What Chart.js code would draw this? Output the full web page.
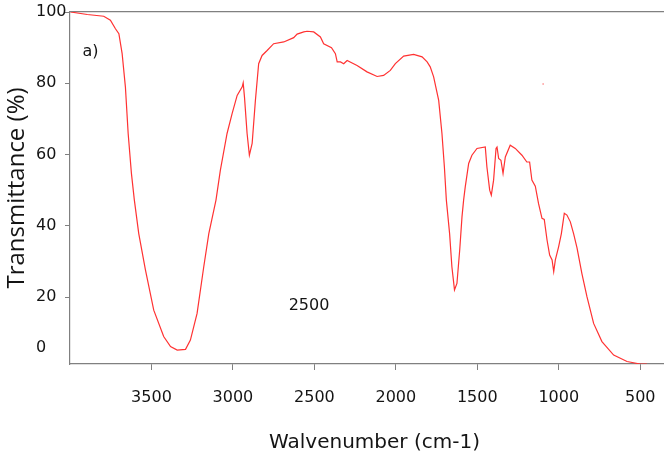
<!DOCTYPE html>
<html><head><meta charset="utf-8">
<script src="https://cdn.jsdelivr.net/npm/chart.js@4"></script>
<style>html,body{margin:0;padding:0;background:#fff;overflow:hidden}#wrap{width:664px;height:460px;overflow:hidden}</style>
</head><body><div id="wrap"><canvas id="c" width="683" height="460"></canvas></div>
<script>
const wavenumber = [3997,3894,3793,3752,3721,3700,3680,3660,3643,3623,3605,3578,3537,3486,3425,3383,3342,3291,3261,3220,3179,3148,3104,3077,3036,3005,2974,2943,2937,2929,2913,2899,2882,2862,2842,2821,2790,2750,2688,2627,2606,2565,2545,2504,2463,2443,2395,2371,2360,2340,2320,2299,2238,2177,2115,2075,2034,2003,1952,1891,1839,1808,1789,1768,1737,1717,1702,1690,1670,1656,1640,1625,1608,1594,1584,1574,1553,1533,1502,1451,1441,1424,1414,1400,1385,1379,1369,1355,1342,1328,1298,1267,1226,1196,1179,1165,1144,1124,1103,1089,1072,1056,1041,1031,1021,1001,984,966,950,929,909,888,858,827,786,735,663,581,500,459];
const transmittance = [100.0,99.3,98.8,97.7,95.3,93.9,88.3,79.0,65.9,54.7,47.2,37.8,27.6,16.3,8.9,6.1,5.1,5.3,7.9,15.4,28.5,37.8,47.2,55.6,65.9,71.5,76.6,79.0,80.1,76.1,65.9,59.8,63.1,75.2,85.5,87.8,89.2,91.1,91.6,92.8,93.8,94.4,94.6,94.4,93.0,91.1,90.0,88.3,86.0,86.0,85.5,86.4,85.0,83.2,81.9,82.2,83.6,85.5,87.6,88.1,87.4,86.0,84.6,81.8,75.2,65.9,56.5,47.2,37.8,28.5,22.0,23.8,33.2,42.5,47.2,50.9,57.5,59.8,61.7,62.1,56.5,50.0,48.6,52.8,61.7,62.1,58.9,58.4,54.7,59.3,62.6,61.7,59.8,57.9,57.9,52.8,51.1,46.2,42.1,41.8,36.0,31.8,30.4,27.1,30.4,34.1,37.8,43.5,43.0,41.1,37.8,33.8,26.6,20.1,12.6,7.5,3.7,1.9,1.2,1.2];
const strayX = [1096];
const strayY = [79.8];
const xTickValues = [3500,3000,2500,2000,1500,1000,500];
const yTickValues = [5.7,20,40,60,80,100];
const yTickLabels = ['0','20','40','60','80','100'];
const noteTexts = ['a)','2500'];
const noteX = [3874,2533];
const noteY = [88.8,17.5];

const GRAY = '#808080';
const TXT = '#141414';

const notesPlugin = {
  id: 'notes',
  afterDatasetsDraw(chart) {
    const ctx = chart.ctx, xs = chart.scales.x, ys = chart.scales.y;
    ctx.save();
    ctx.font = '16px "DejaVu Sans"';
    ctx.fillStyle = TXT;
    ctx.textAlign = 'center';
    ctx.textBaseline = 'middle';
    noteTexts.forEach((t, i) => {
      ctx.fillText(t, xs.getPixelForValue(noteX[i]), ys.getPixelForValue(noteY[i]));
    });
    ctx.restore();
  }
};

new Chart(document.getElementById('c'), {
  type: 'line',
  data: {
    datasets: [{
      data: wavenumber.map((w, i) => ({x: w, y: transmittance[i]})),
      borderColor: 'rgb(255,50,50)',
      borderWidth: 1.2,
      pointRadius: 0,
      tension: 0,
      fill: false
    }, {
      data: strayX.map((w, i) => ({x: w, y: strayY[i]})),
      showLine: false,
      pointRadius: 0.8,
      pointBorderWidth: 0,
      pointBackgroundColor: 'rgba(255,80,80,0.8)'
    }]
  },
  options: {
    responsive: false,
    animation: false,
    devicePixelRatio: 1,
    layout: {padding: {left: 36, top: 12, right: 0, bottom: 0}},
    plugins: {legend: {display: false}, tooltip: {enabled: false}},
    scales: {
      x: {
        type: 'linear', reverse: true, min: 262, max: 4000,
        afterBuildTicks: s => { s.ticks = xTickValues.map(v => ({value: v})); },
        afterFit: s => { s.height = 96; s.paddingLeft = 0; s.paddingRight = 0; },
        grid: {drawOnChartArea: false, drawTicks: true, tickLength: 6, tickColor: GRAY},
        border: {color: GRAY, width: 1.2},
        ticks: {font: {family: 'DejaVu Sans', size: 16}, color: TXT, padding: 18, maxRotation: 0, autoSkip: false,
                callback: v => String(v)},
        title: {display: true, text: 'Walvenumber (cm-1)', font: {family: 'DejaVu Sans', size: 20}, color: TXT,
                padding: {top: 0, bottom: 5}}
      },
      x2: {
        type: 'linear', position: 'top', min: 0, max: 1,
        afterBuildTicks: s => { s.ticks = []; },
        afterFit: s => { s.height = 0; s.paddingLeft = 0; s.paddingRight = 0; },
        grid: {display: false},
        ticks: {display: false},
        border: {display: true, color: GRAY, width: 1.2}
      },
      y: {
        type: 'linear', min: 1.2, max: 100,
        afterBuildTicks: s => { s.ticks = yTickValues.map(v => ({value: v})); },
        afterFit: s => { s.width = 34; s.paddingTop = 0; s.paddingBottom = 0; },
        grid: {drawOnChartArea: false, drawTicks: true, tickLength: 5,
               tickColor: c => (c.tick && c.tick.value === yTickValues[0]) ? 'rgba(0,0,0,0)' : GRAY},
        border: {color: GRAY, width: 1.2},
        ticks: {font: {family: 'DejaVu Sans', size: 16}, color: TXT, crossAlign: 'far', autoSkip: false,
                callback: v => yTickLabels[yTickValues.indexOf(v)]},
        title: {display: true, text: 'Transmittance (%)', font: {family: 'Open Sans', size: 24}, color: TXT,
                padding: {top: -33, bottom: 0}}
      }
    }
  },
  plugins: [notesPlugin]
});
</script>
</body></html>
